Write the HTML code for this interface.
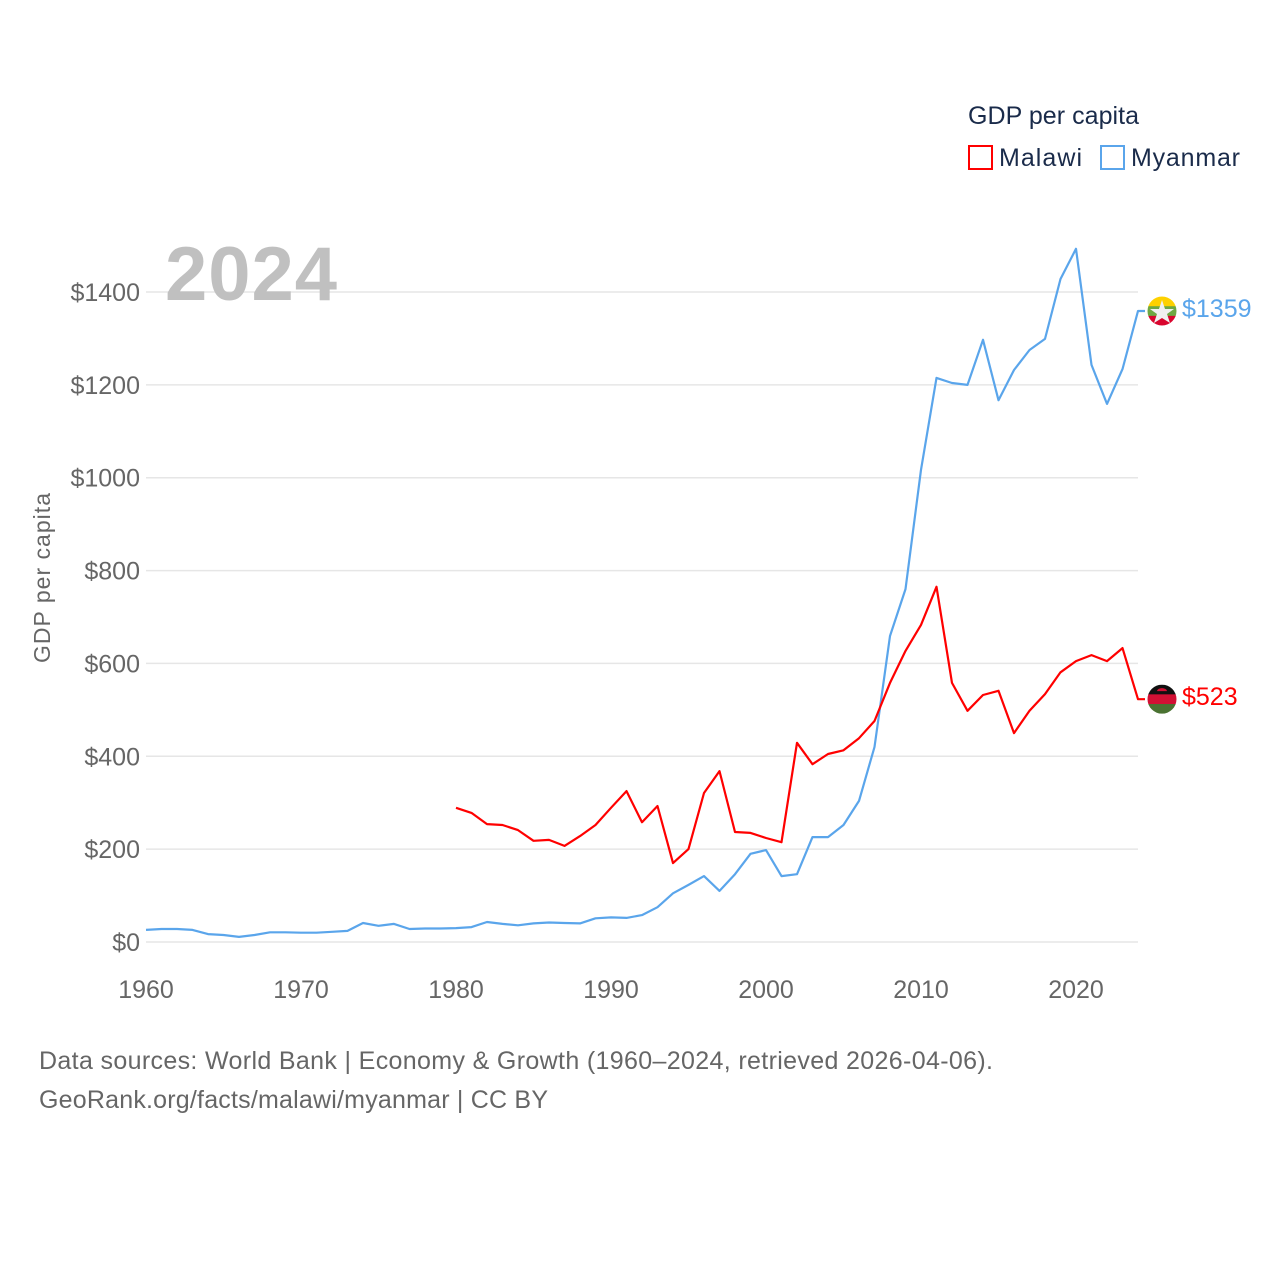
<!DOCTYPE html>
<html><head><meta charset="utf-8"><style>
html,body{margin:0;padding:0;background:#fff;width:1280px;height:1280px;overflow:hidden;font-family:"Liberation Sans",sans-serif}
</style></head><body>
<svg id="chart" width="1280" height="1280" xmlns="http://www.w3.org/2000/svg" style="position:absolute;left:0;top:0">
<g id="grid"></g>
<g id="yticks"></g>
<g id="xticks"></g>
<text x="165" y="300" font-size="76" font-weight="bold" fill="#c0c0c0" textLength="172">2024</text>
<text transform="translate(50,578) rotate(-90)" text-anchor="middle" font-size="23" fill="#666" textLength="170">GDP per capita</text>
<g id="series"></g>
<g>
<text x="968" y="124" font-size="25" fill="#1a2b4a" textLength="171">GDP per capita</text>
<rect x="969" y="146" width="23" height="23" fill="none" stroke="#ff0000" stroke-width="2"/>
<text x="999" y="166" font-size="25" fill="#1a2b4a" textLength="83">Malawi</text>
<rect x="1101" y="146" width="23" height="23" fill="none" stroke="#5aa5eb" stroke-width="2"/>
<text x="1131" y="166" font-size="25" fill="#1a2b4a" textLength="109">Myanmar</text>
</g>
<g font-size="25" fill="#666">
<text x="39" y="1069" textLength="954">Data sources: World Bank | Economy &amp; Growth (1960–2024, retrieved 2026-04-06).</text>
<text x="39" y="1108" textLength="509">GeoRank.org/facts/malawi/myanmar | CC BY</text>
</g>
</svg>
<script>
const myanmarStart = 1960;
const myanmarValues = [26,28,28,26,17,15,11,15,21,21,20,20,22,24,41,35,39,28,29,29,30,32,43,39,36,40,42,41,40,51,53,52,58,75,105,123,142,110,146,190,198,142,146,226,226,252,304,420,659,760,1017,1215,1204,1200,1297,1167,1232,1275,1299,1428,1493,1243,1159,1234,1359];
const malawiStart = 1980;
const malawiValues = [289,278,254,252,241,218,220,207,228,252,289,325,258,293,170,200,321,368,237,235,224,215,429,383,405,413,439,476,558,627,683,765,558,498,532,541,450,498,534,581,605,618,605,633,523];
const yTicks = [0,200,400,600,800,1000,1200,1400];
const xTicks = [1960,1970,1980,1990,2000,2010,2020];
const NS='http://www.w3.org/2000/svg';
const X0=146,X1=1138,Y0=942,Y1=292;
function xs(yr){return X0+(yr-1960)*(X1-X0)/64;}
function ys(v){return Y0-v*(Y0-Y1)/1400;}
function mk(tag,attrs,parent){const e=document.createElementNS(NS,tag);for(const k in attrs)e.setAttribute(k,attrs[k]);parent.appendChild(e);return e;}
const grid=document.getElementById('grid'),yt=document.getElementById('yticks'),xt=document.getElementById('xticks'),ser=document.getElementById('series');
yTicks.forEach(v=>{
 const l=mk('line',{x1:X0,x2:X1,y1:ys(v),y2:ys(v),stroke:'#e6e6e6','stroke-width':1.5},grid);
 
 
 const t=mk('text',{x:140,y:ys(v)+9,'text-anchor':'end','font-size':25,fill:'#666'},yt);
 
 
 t.textContent='$'+v;
});
xTicks.forEach(v=>{
 const t=mk('text',{x:xs(v),y:998,'text-anchor':'middle','font-size':25,fill:'#666'},xt);
 
 
 t.textContent=v;
});
function drawSeries(start,vals,color,name){
 const pts=vals.map((v,i)=>xs(start+i).toFixed(1)+','+ys(v).toFixed(1));
 const last=vals[vals.length-1];
 pts.push((xs(start+vals.length-1)+7).toFixed(1)+','+ys(last).toFixed(1));
 const p=mk('polyline',{points:pts.join(' '),fill:'none',stroke:color,'stroke-width':2.2,'stroke-linejoin':'round'},ser);
 
 
 const t=mk('text',{x:1182,y:ys(last)+6,'font-size':25,fill:color},ser);
 
 
 t.textContent='$'+last;
 return ys(last);
}
const ym=drawSeries(myanmarStart,myanmarValues,'#5aa5eb','myanmar');
const yw=drawSeries(malawiStart,malawiValues,'#ff0000','malawi');
function flag(cy,bands,name){
 const g=mk('g',{},ser);
 
 
 const id='clip'+name;
 const cp=mk('clipPath',{id:id},g);mk('circle',{cx:1162,cy:cy,r:14.5},cp);
 const gg=mk('g',{'clip-path':'url(#'+id+')'},g);
 bands.forEach((c,i)=>mk('rect',{x:1147,y:cy-14.5+i*29/3,width:30,height:29/3+0.5,fill:c},gg));
 return g;
}
const fm=flag(ym,['#fed100','#6ea843','#d9052e'],'myanmar');
mk('polygon',{points:'1162,300 1165,309 1174,309 1167,314 1170,323 1162,318 1154,323 1157,314 1150,309 1159,309'.split(' ').map(p=>{const [a,b]=p.split(',');return a+','+(+b+ym-311);}).join(' '),fill:'#f0f0f0'},fm);
const fw=flag(yw,['#111','#d21034','#4a7232'],'malawi');
mk('path',{d:'M1157 '+(yw-8)+' a5 3 0 0 1 10 0 z',fill:'#d21034'},fw);
</script>
</body></html>
